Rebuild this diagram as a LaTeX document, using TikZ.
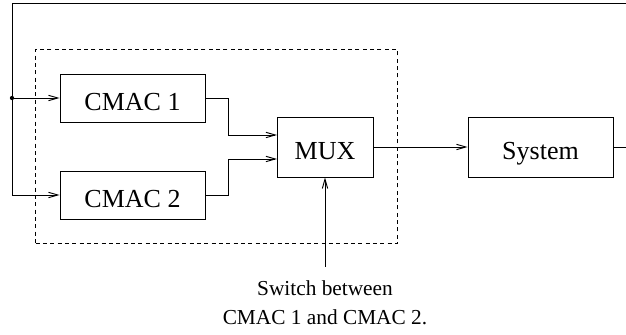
\documentclass[tikz,border=0pt]{standalone}
\usepackage{fontspec}
\setmainfont{Liberation Serif}
\usepackage{tikz}
\usetikzlibrary{fit,arrows.meta}
\tikzstyle{block} = [draw, line width=0.7pt, minimum height=36pt, text height=18.5pt, text depth=0pt, font={\fontsize{19.5}{23}\selectfont}]
\tikzstyle{cmac} = [block, minimum width=108.75pt]
\tikzstyle{sig} = [line width=0.7pt, -{Straight Barb[length=7pt,width=4pt]}]
\tikzstyle{wire} = [line width=0.7pt]

\begin{document}
\begin{tikzpicture}[x=0.75pt,y=-0.75pt]
  \useasboundingbox (0,0) rectangle (626,335);
  \clip (0,0) rectangle (626,335);
  \node[cmac](c1) at (132.5,98){CMAC 1};
  \node[cmac](c2) at (132.5,195){CMAC 2};
  \node[block,minimum width=72pt,minimum height=45pt](mux) at (325,147){MUX};
  \node[block,minimum width=108.75pt,minimum height=45pt](sys) at (540.5,147){System};
  \node[draw,dashed,line width=0.6pt,dash pattern=on 3pt off 2.5pt,inner sep=18pt,fit=(c1)(c2)(mux)](grp) {};
  \node[anchor=north,inner sep=0pt,outer sep=10.5pt,align=center,font={\fontsize{16}{21.75}\selectfont}](sw) at (325,267){Switch between\\CMAC 1 and CMAC 2.};
  \coordinate (split) at (12,98);
  \coordinate (m1) at (277,135);
  \coordinate (m2) at (277,159);
  \draw[wire](sys.east) -- ++(25,0) |- (12,3) -- (split);
  \fill (split) circle (1.6pt);
  \draw[sig](split) -- (c1);
  \draw[sig](split) |- (c2);
  \draw[sig](c1.east) -- ++(23,0) |- (m1);
  \draw[sig](c2.east) -- ++(23,0) |- (m2);
  \draw[sig](mux) -- (sys);
  \draw[sig](sw) -- (mux);
\end{tikzpicture}
\end{document}
